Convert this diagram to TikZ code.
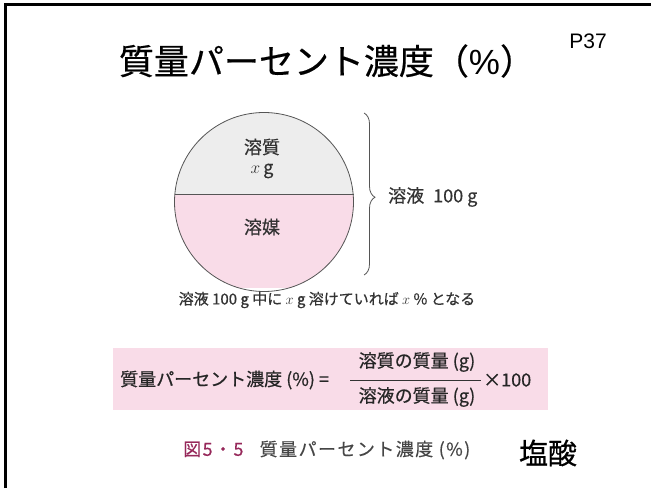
\documentclass[tikz,border=0pt]{standalone}
\usepackage{fontspec}
\setmainfont{Noto Sans CJK JP}[FakeBold=0.5]
\newfontfamily\latfont{Liberation Sans}
\newfontfamily\capfont{Noto Sans CJK JP}[FakeBold=0.3, LetterSpace=8]
\usetikzlibrary{decorations.pathreplacing}
\definecolor{pinkfill}{RGB}{249,220,232}
\definecolor{grayfill}{RGB}{237,237,237}
\definecolor{outl}{RGB}{85,85,85}
\definecolor{captxt}{RGB}{70,70,70}
\definecolor{maroon}{RGB}{150,40,90}
\tikzset{
  figtxt/.style={inner sep=0pt, text=black!80, font=\fontsize{18}{20}\selectfont},
  sentxt/.style={inner sep=0pt, text=black!80, font=\fontsize{15}{17}\selectfont},
  frmtxt/.style={inner sep=0pt, text=black!85, font=\fontsize{18}{20}\selectfont},
}
\begin{document}
\begin{tikzpicture}[x=1pt,y=1pt]
\useasboundingbox (0,0) rectangle (651,488);
% frame
\draw[line width=2.6pt] (5.3,0) -- (5.3,483.5) -- (651,483.5);
% title
\node[inner sep=0pt, font=\fontsize{35}{38}\selectfont] (title) at (327,427) {質量パーセント濃度（{\latfont\%}）};
\node[inner sep=0pt, font=\latfont\fontsize{21}{24}\selectfont] (page) at (588,447) {P37};
% circle
\coordinate (cc) at (264,286);
\begin{scope}
  \clip (cc) circle (89.5);
  \fill[grayfill] (170,293) rectangle (360,380);
  \fill[pinkfill] (170,200) rectangle (360,293);
\end{scope}
\draw[outl, line width=0.8pt] (cc) circle (89.5);
\draw[outl, line width=1pt] (174.5,293) -- (353.5,293);
\node[figtxt] (solute) at (262,341) {溶質};
\node[figtxt] (xg) at (262,317) {$x$\,g};
\node[figtxt] (solvent) at (262,261) {溶媒};
% brace
\coordinate (bt) at (364,375);
\coordinate (bb) at (364,213);
\draw[outl, line width=0.8pt, decorate, decoration={brace, amplitude=11pt, aspect=0.52}] (bt) -- (bb);
\node[figtxt, anchor=west] (solution) at (388,291) {溶液\hspace{0.5em}100 g};
% sentence
\node[sentxt] (sentence) at (327,188) {溶液 100 g 中に $x$ g 溶けていれば $x$ \% となる};
% formula box
\fill[pinkfill] (113,78) rectangle (548,140) node[coordinate] (boxtr) {};
\node[frmtxt, anchor=west] (lhs) at (120,108) {質量パーセント濃度 (\%) =};
\node[frmtxt] (num) at (417,126) {溶質の質量 (g)};
\node[frmtxt] (den) at (417,91) {溶液の質量 (g)};
\coordinate (barl) at (350,108);
\coordinate (barr) at (481,108);
\draw[black!80, line width=0.7pt] (barl) -- (barr);
\node[frmtxt, anchor=west] (times) at (483,108) {×100};
% caption
\node[inner sep=0pt, anchor=west, font=\capfont\fontsize{18}{20}\selectfont] (cap) at (183,38)
  {\textcolor{maroon}{図5・5}\hspace{0.9em}\textcolor{captxt}{質量パーセント濃度 (\%)}};
\node[inner sep=0pt, font=\fontsize{29}{31}\selectfont] (hcl) at (548,35) {塩酸};
\end{tikzpicture}
\end{document}
